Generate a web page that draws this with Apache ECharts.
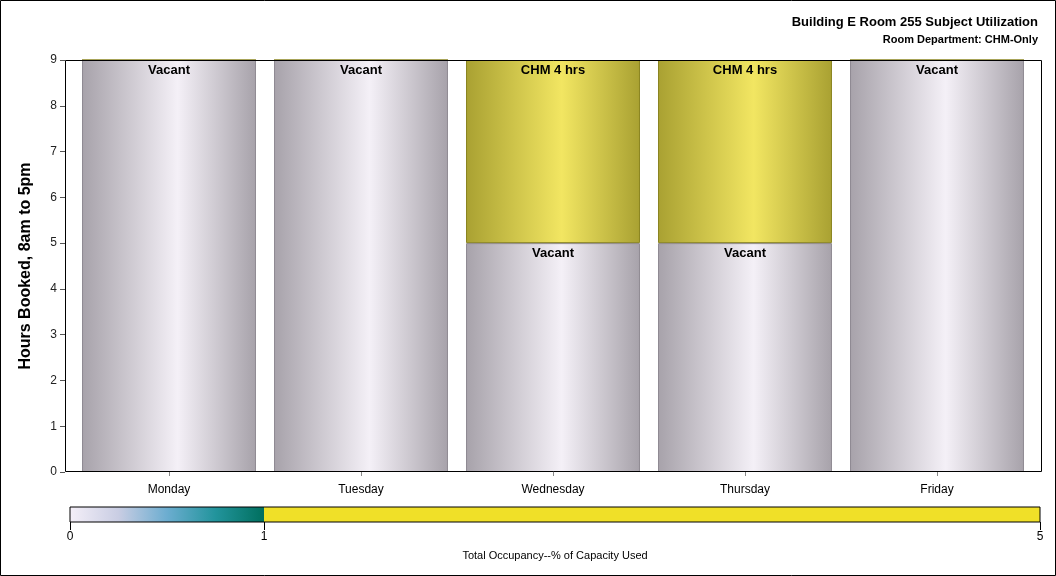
<!DOCTYPE html>
<html>
<head>
<meta charset="utf-8">
<script src="https://cdn.jsdelivr.net/npm/echarts@6/dist/echarts.min.js"></script>
<style>
html,body{margin:0;padding:0;background:#fff;}
#chart{width:1056px;height:576px;}
</style>
</head>
<body>
<div id="chart"></div>
<script>
// ---- data ----
var days = ['Monday', 'Tuesday', 'Wednesday', 'Thursday', 'Friday'];
var vacantHours = [9, 9, 5, 5, 9];
var chmHours = [0, 0, 4, 4, 0];
var yTicks = [0, 1, 2, 3, 4, 5, 6, 7, 8, 9];
var legendBreaks = [0, 1, 5];
var legendLow = [1];   // 0 -> 1 gradient segment
var legendHigh = [4];  // 1 -> 5 solid segment

var FONT = 'Liberation Sans, Arial, sans-serif';

var vacantFill = {
  type: 'linear', x: 0, y: 0, x2: 1, y2: 0,
  colorStops: [
    {offset: 0, color: '#a7a2aa'},
    {offset: 0.55, color: '#f4f0f7'},
    {offset: 1, color: '#a7a2aa'}
  ]
};
var chmFill = {
  type: 'linear', x: 0, y: 0, x2: 1, y2: 0,
  colorStops: [
    {offset: 0, color: '#a9a132'},
    {offset: 0.55, color: '#f2e662'},
    {offset: 1, color: '#a9a132'}
  ]
};
var scaleFill = {
  type: 'linear', x: 0, y: 0, x2: 1, y2: 0,
  colorStops: [
    {offset: 0, color: '#f4eff8'},
    {offset: 0.25, color: '#c9cde3'},
    {offset: 0.5, color: '#6cadd0'},
    {offset: 0.75, color: '#22949c'},
    {offset: 1, color: '#006f5e'}
  ]
};

var chart = echarts.init(document.getElementById('chart'), null, {renderer: 'canvas'});
chart.setOption({
  animation: false,
  textStyle: {fontFamily: FONT},
  title: [
    {
      text: 'Building E Room 255 Subject Utilization',
      right: 13, top: 11,
      textStyle: {fontSize: 13, fontWeight: 'bold', color: '#000', fontFamily: FONT}
    },
    {
      text: 'Room Department: CHM-Only',
      right: 13, top: 29,
      textStyle: {fontSize: 11, fontWeight: 'bold', color: '#000', fontFamily: FONT}
    }
  ],
  graphic: [
    {type: 'rect', shape: {x: 0.5, y: 0.5, width: 1055, height: 575}, style: {fill: 'none', stroke: '#000', lineWidth: 1}, silent: true},
    {type: 'rect', shape: {x: 65.5, y: 60.5, width: 976, height: 411}, style: {fill: 'none', stroke: '#000', lineWidth: 1}, silent: true, z: 10}
  ],
  grid: [
    {left: 73, right: 23, top: 60, bottom: 104},
    {left: 70, width: 970, top: 507, height: 15, show: true, borderColor: '#000', borderWidth: 1, z: 5}
  ],
  xAxis: [
    {
      type: 'category', data: days, gridIndex: 0,
      axisLine: {show: false},
      axisTick: {show: true, alignWithLabel: true, length: 4, lineStyle: {color: '#888'}},
      axisLabel: {color: '#000', fontSize: 12, margin: 12, fontFamily: FONT}
    },
    {
      type: 'value', gridIndex: 1, min: 0, max: 5,
      splitLine: {show: false},
      axisLine: {show: false},
      axisTick: {show: true, customValues: legendBreaks, length: 8, lineStyle: {color: '#000'}},
      axisLabel: {customValues: legendBreaks, color: '#000', fontSize: 12, margin: 9, fontFamily: FONT},
      name: 'Total Occupancy--% of Capacity Used', nameLocation: 'middle', nameGap: 28,
      nameTextStyle: {fontSize: 11, color: '#000', fontFamily: FONT}
    }
  ],
  yAxis: [
    {
      type: 'value', gridIndex: 0, min: 0, max: 9, interval: 1, offset: 8,
      splitLine: {show: false},
      axisLine: {show: false},
      axisTick: {show: true, length: 5, lineStyle: {color: '#555'}},
      axisLabel: {color: '#222', fontSize: 12, margin: 8, fontFamily: FONT,
        formatter: function (v) { return yTicks.indexOf(v) >= 0 ? String(v) : ''; }},
      name: 'Hours Booked, 8am to 5pm', nameLocation: 'middle', nameGap: 31,
      nameTextStyle: {fontSize: 16, fontWeight: 'bold', color: '#000', fontFamily: FONT}
    },
    {
      type: 'category', gridIndex: 1, data: [''],
      axisLine: {show: false}, axisTick: {show: false}, axisLabel: {show: false}
    }
  ],
  series: [
    {
      name: 'Vacant', type: 'bar', stack: 'day', xAxisIndex: 0, yAxisIndex: 0,
      data: vacantHours, barWidth: '90.6%',
      itemStyle: {color: vacantFill, borderColor: '#8f8a93', borderWidth: 1},
      label: {show: true, position: 'insideTop', distance: 4, formatter: 'Vacant',
        color: '#000', fontWeight: 'bold', fontSize: 13, fontFamily: FONT}
    },
    {
      name: 'CHM', type: 'bar', stack: 'day', xAxisIndex: 0, yAxisIndex: 0,
      data: chmHours, barWidth: '90.6%',
      itemStyle: {color: chmFill, borderColor: '#8a8420', borderWidth: 1},
      label: {show: true, position: 'insideTop', distance: 4,
        formatter: function (p) { return p.value > 0 ? 'CHM ' + p.value + ' hrs' : ''; },
        color: '#000', fontWeight: 'bold', fontSize: 13, fontFamily: FONT}
    },
    {
      type: 'bar', stack: 'scale', xAxisIndex: 1, yAxisIndex: 1,
      data: legendLow, barWidth: '100%', itemStyle: {color: scaleFill}, silent: true
    },
    {
      type: 'bar', stack: 'scale', xAxisIndex: 1, yAxisIndex: 1,
      data: legendHigh, barWidth: '100%', itemStyle: {color: '#f0e028'}, silent: true
    }
  ]
});
</script>
</body>
</html>
